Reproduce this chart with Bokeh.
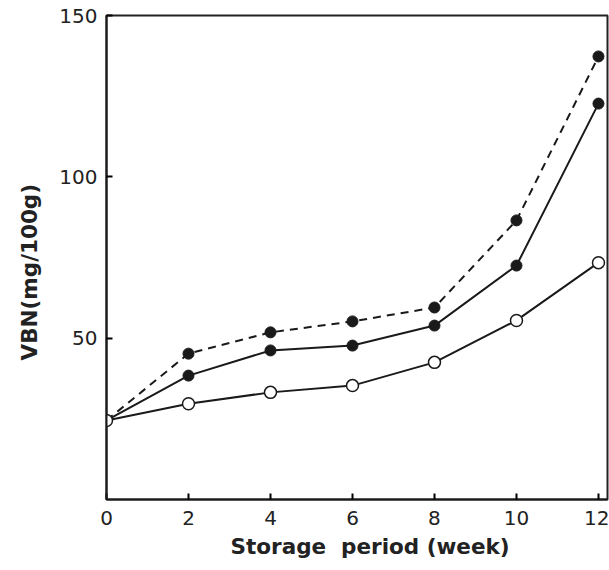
from bokeh.plotting import figure
from bokeh.models import Range1d, FixedTicker, Title
from bokeh.embed import file_html
from bokeh.resources import INLINE

weeks = [0, 2, 4, 6, 8, 10, 12]
vbn_open = [24.5, 29.7, 33.2, 35.3, 42.5, 55.5, 73.4]
vbn_filled = [24.5, 38.4, 46.2, 47.7, 53.9, 72.5, 122.7]
vbn_filled_dashed = [24.5, 45.2, 51.8, 55.2, 59.5, 86.5, 137.3]

x_ticks = [0, 2, 4, 6, 8, 10, 12]
y_ticks = [50, 100, 150]
x_title = "Storage\u00a0\u00a0period\u00a0(week)"
y_title = "VBN(mg/100g)"

FONT = "DejaVu Sans"
INK = "#1a1a1a"

p = figure(width=609, height=570, output_backend="svg", toolbar_location=None,
           x_range=Range1d(0, 12.22), y_range=Range1d(0, 150),
           min_border_left=106, min_border_right=2, min_border_top=15, min_border_bottom=71)
p.grid.visible = False
p.background_fill_color = "white"
p.border_fill_color = "white"
p.outline_line_color = "#222222"
p.outline_line_width = 2

for ax in (p.xaxis, p.yaxis):
    ax.axis_line_width = 2
    ax.axis_line_color = INK
    ax.major_tick_in = 6
    ax.major_tick_out = 0
    ax.major_tick_line_width = 2
    ax.minor_tick_line_color = None
    ax.major_label_text_font = FONT
    ax.major_label_text_font_size = "20px"
    ax.major_label_text_color = "#222222"

p.xaxis.ticker = FixedTicker(ticks=x_ticks)
p.yaxis.ticker = FixedTicker(ticks=y_ticks)
p.xaxis.major_label_standoff = 11
p.yaxis.major_label_standoff = 9

p.add_layout(Title(text=x_title, align="left", offset=124, standoff=9,
                   text_font=FONT, text_font_size="21.5px", text_font_style="bold",
                   text_color="#222222"), "below")
p.add_layout(Title(text=y_title, align="left", offset=139, standoff=29,
                   text_font=FONT, text_font_size="21.5px", text_font_style="bold",
                   text_color="#222222"), "left")

# dashed series
p.line(weeks, vbn_filled_dashed, line_color=INK, line_width=2, line_dash="8 6")
p.scatter(weeks[1:], vbn_filled_dashed[1:], size=11, marker="circle",
          fill_color=INK, line_color=INK)
# solid filled series
p.line(weeks, vbn_filled, line_color=INK, line_width=2)
p.scatter(weeks[1:], vbn_filled[1:], size=11, marker="circle",
          fill_color=INK, line_color=INK)
# open series
p.line(weeks, vbn_open, line_color=INK, line_width=2)
p.scatter(weeks, vbn_open, size=12, marker="circle",
          fill_color="white", line_color=INK, line_width=1.5)

open("out.html", "w").write(file_html(p, INLINE))
